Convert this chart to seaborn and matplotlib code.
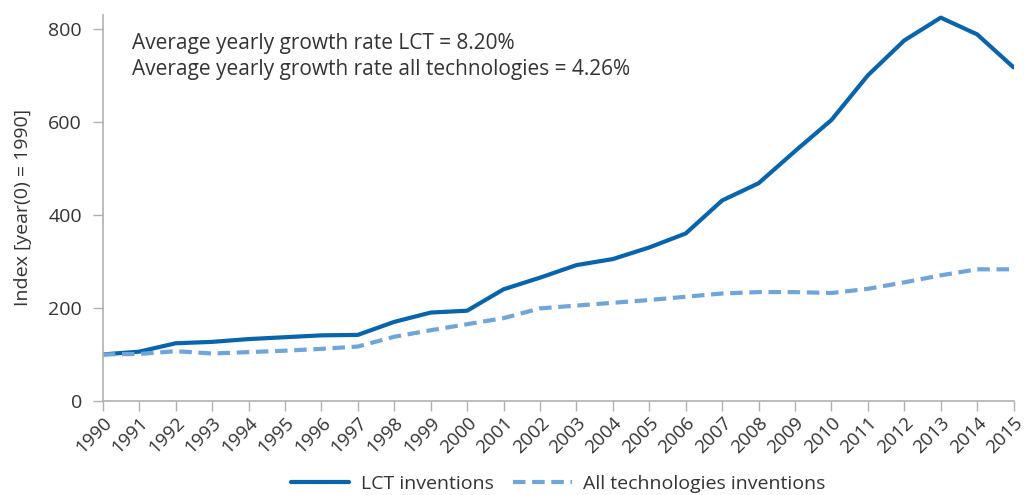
import matplotlib
matplotlib.use("Agg")
import matplotlib.pyplot as plt
import seaborn as sns
import pandas as pd

# --- data ---
years = list(range(1990, 2016))
lct_index = [100, 106, 124, 127, 133, 137, 141, 142, 170, 190, 194, 240, 265, 292,
             305, 330, 360, 431, 468, 537, 604, 700, 775, 824, 788, 717]
all_tech_index = [100, 101, 107, 102, 105, 108, 112, 117, 138, 152, 165, 178, 199, 205,
                  211, 217, 224, 231, 234, 234, 232, 241, 255, 270, 283, 283]
series_names = ["LCT inventions", "All technologies inventions"]
note_lines = ["Average yearly growth rate LCT = 8.20%",
              "Average yearly growth rate all technologies = 4.26%"]

df = pd.DataFrame({
    "Year": years * 2,
    "Index": lct_index + all_tech_index,
    "Series": [series_names[0]] * len(years) + [series_names[1]] * len(years),
})

sns.set_style("white")
plt.rcParams["font.family"] = ["Open Sans", "DejaVu Sans"]
text_col = "#333333"
axis_col = "#b0b0b0"

fig = plt.figure(figsize=(10.28, 4.95), dpi=100)
ax = fig.add_axes([0.1, 0.19, 0.886, 0.78])

sns.lineplot(data=df, x="Year", y="Index", hue="Series", style="Series",
             palette={series_names[0]: "#0764ad", series_names[1]: "#6fa5da"},
             dashes={series_names[0]: "", series_names[1]: (3, 1.6)},
             linewidth=3, ax=ax, legend=True)

ax.set_xlim(1990, 2015)
ax.set_ylim(0, 830)
ax.set_yticks([0, 200, 400, 600, 800])
ax.set_xticks(years)
ax.set_xticklabels([str(y) for y in years], rotation=45, ha="right", va="top",
                   rotation_mode="anchor", fontsize=13.5, color=text_col)
ax.tick_params(axis="y", labelsize=14, labelcolor=text_col, pad=8)
ax.tick_params(axis="x", pad=2)
ax.tick_params(axis="both", direction="out", length=7, width=1, color=axis_col,
               bottom=True, left=True)
ax.set_xlabel("")
ax.set_ylabel("Index [year(0) = 1990]", fontsize=14, color=text_col, labelpad=12)

for side in ["top", "right"]:
    ax.spines[side].set_visible(False)
for side in ["left", "bottom"]:
    ax.spines[side].set_color(axis_col)
    ax.spines[side].set_linewidth(1.2)

ax.text(0.032, 0.925, note_lines[0], transform=ax.transAxes, fontsize=15,
        color=text_col, va="center")
ax.text(0.032, 0.858, note_lines[1], transform=ax.transAxes, fontsize=15,
        color=text_col, va="center")

ax.legend(loc="upper center", bbox_to_anchor=(0.5, -0.172), ncol=2, frameon=False,
          fontsize=14, handlelength=3, columnspacing=1.0, handletextpad=0.6,
          labelcolor=text_col, borderaxespad=0)

fig.savefig("out.png", dpi=100)
